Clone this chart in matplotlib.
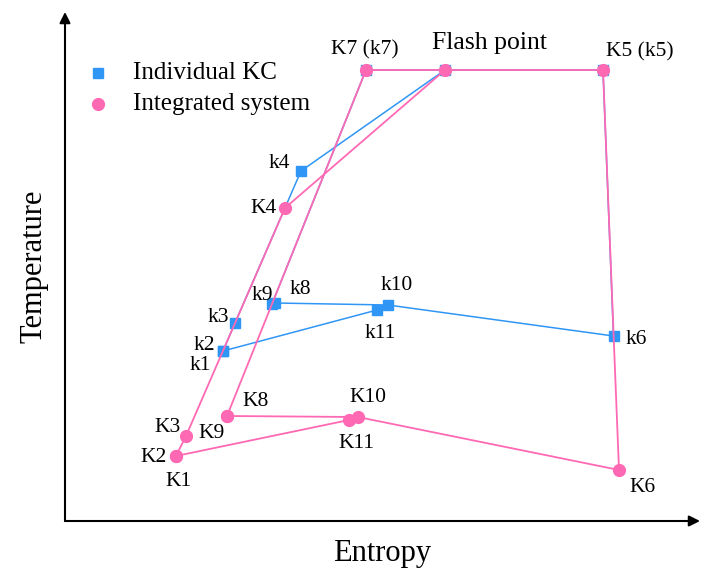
import matplotlib.pyplot as plt

plt.rcParams["font.family"] = ["Liberation Serif", "DejaVu Serif"]

BLUE = "#2f96f5"
PINK = "#ff69b4"

# state points (arbitrary entropy / temperature units)
kc_names = ["k1", "k2", "k3", "k4", "F", "k5", "k6", "k7", "k8", "k9", "k10", "k11"]
kc_s = [158, 158, 170, 236, 380, 538, 548.5, 301, 210, 207, 323, 312]
kc_t = [170, 170, 198, 350, 451, 451, 185, 451, 218, 217, 216, 211]

is_names = ["K1", "K2", "K3", "K4", "F", "K5", "K6", "K7", "K8", "K9", "K10", "K11"]
is_s = [111, 111, 121, 220, 380, 538, 554, 301, 162, 162, 293, 284]
is_t = [65, 65, 85, 313, 451, 451, 51, 451, 105, 105, 104, 101]

# connections between states, same for both cycles
paths = [
    [1, 2, 3, 4, 5, 6, 10, 11, 1],
    [7, 4],
    [9, 7],
    [8, 10],
]

fig = plt.figure(figsize=(7.06, 5.69), dpi=100)
ax = fig.add_axes([65 / 706, 48 / 569, 635 / 706, 509 / 569])
ax.set_xlim(0, 635)
ax.set_ylim(0, 509)
for sp in ax.spines.values():
    sp.set_visible(False)
ax.set_xticks([])
ax.set_yticks([])

arrow = dict(arrowstyle="-|>", color="black", lw=1.5, mutation_scale=16, shrinkA=0, shrinkB=0)
ax.annotate("", xy=(1, 0), xytext=(0, 0), xycoords="axes fraction", arrowprops=arrow)
ax.annotate("", xy=(0, 1), xytext=(0, 0), xycoords="axes fraction", arrowprops=arrow)


def draw(s, t, color, marker, ms, lw, z):
    for p in paths:
        ax.plot([s[i] for i in p], [t[i] for i in p], color=color, lw=lw, zorder=z)
    ax.plot(s, t, ls="none", marker=marker, ms=ms, color=color, zorder=z + 1)


draw(kc_s, kc_t, BLUE, "s", 7.8, 1.1, 2)
draw(is_s, is_t, PINK, "o", 8.5, 1.3, 4)

fs = 15.5
lab = dict(fontsize=fs, ha="center", va="center", zorder=6)
# individual KC labels
ax.text(214, 358, "k4", **lab)
ax.text(153, 204, "k3", **lab)
ax.text(139, 176, "k2", **lab)
ax.text(135, 156, "k1", **lab)
ax.text(197, 225, "k9", **lab)
ax.text(235, 232, "k8", **lab)
ax.text(332, 235, "k10", **lab)
ax.text(315, 188, "k11", **lab)
ax.text(571, 181, "k6", **lab)
# integrated system labels
ax.text(199, 313, "K4", **lab)
ax.text(191, 119, "K8", **lab)
ax.text(147, 87, "K9", **lab)
ax.text(103, 94, "K3", **lab)
ax.text(89, 64, "K2", **lab)
ax.text(114, 40, "K1", **lab)
ax.text(303, 123, "K10", **lab)
ax.text(291, 77, "K11", **lab)
ax.text(577, 34, "K6", **lab)
# shared labels
ax.text(300, 471, "K7 (k7)", **lab)
ax.text(425, 478, "Flash point", fontsize=18.5, ha="center", va="center")
ax.text(575, 469, "K5 (k5)", **lab)

# legend
ax.plot([33], [448], ls="none", marker="s", ms=7.8, color=BLUE)
ax.plot([33], [417], ls="none", marker="o", ms=8.5, color=PINK)
ax.text(68, 448, "Individual KC", fontsize=18, va="center")
ax.text(68, 417, "Integrated system", fontsize=18, va="center")

ax.set_xlabel("Entropy", fontsize=22, labelpad=13)
ax.set_ylabel("Temperature", fontsize=22, labelpad=12)

fig.savefig("out.png", dpi=100)
